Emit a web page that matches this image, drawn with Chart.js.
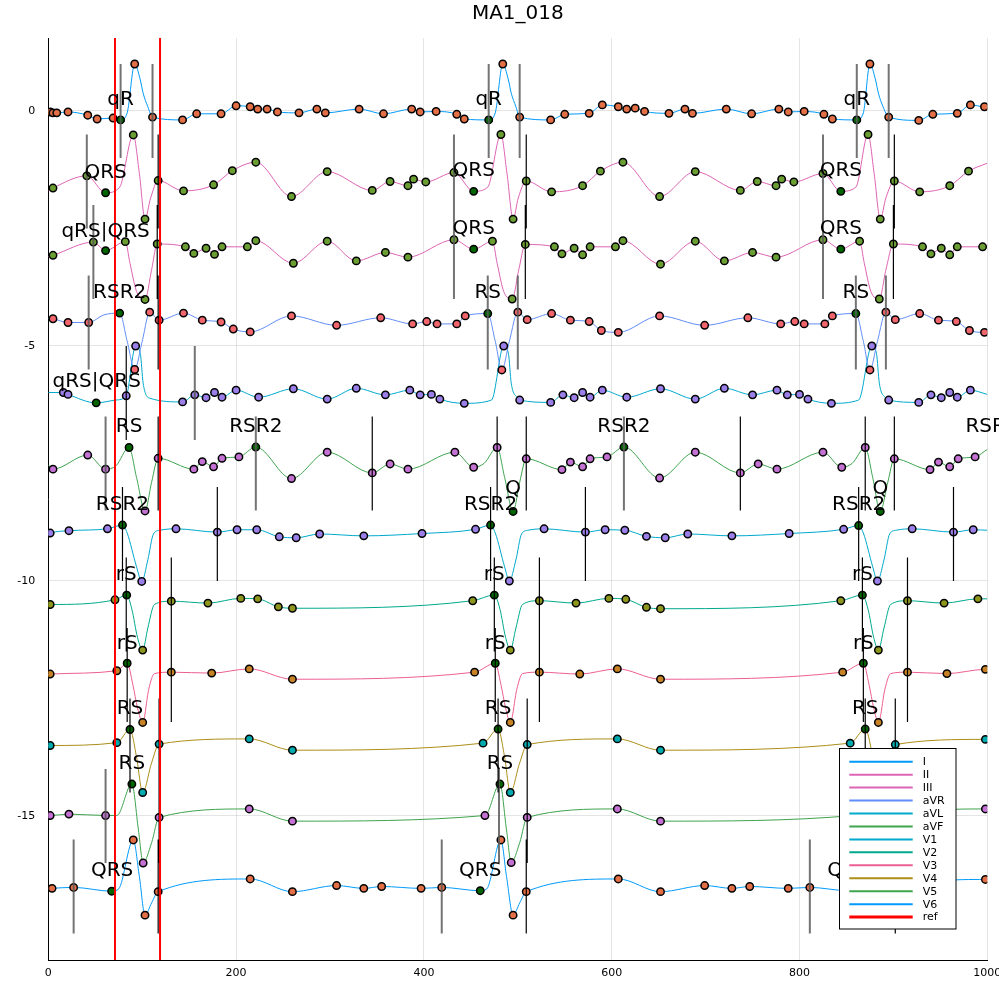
<!DOCTYPE html>
<html><head><meta charset="utf-8">
<script src="https://cdn.jsdelivr.net/npm/chart.js@4.4.1/dist/chart.umd.min.js"></script>
<style>html,body{margin:0;padding:0;background:#fff}canvas{display:block}</style>
</head><body>
<canvas id="c" width="999" height="999"></canvas>
<script>
const chartTitle = 'MA1_018';
const leadNames = ['I','II','III','aVR','aVL','aVF','V1','V2','V3','V4','V5','V6'];
const leadOffsets = [0,-1.5,-3,-4.5,-6,-7.5,-9,-10.5,-12,-13.5,-15,-16.5];
const lineColors = ['#009AFA','#DD64B5','#DD64B5','#618DF6','#00A9CD','#3EA44E','#00A9CD','#00A98D','#ED5E93','#AC8E18','#3EA44E','#009AFA'];
const markerColors = ['#E36F47','#6B9E32','#6B9E32','#F0666C','#9B7FE9','#C371D2','#9B7FE9','#8E971D','#C68225','#00AAAE','#C371D2','#E36F47'];
const fiducialColor = '#006400';
const xTicks = [0,200,400,600,800,1000];
const yTicks = [-15,-10,-5,0];
const xMin = 0, xMax = 1000, yMin = -18.064, yMax = 1.553;
const refX = [71,119];

// [x, y, kind]  kind: 0 trace only, 1 marker, 2 fiducial (dark green) marker
const leadI = [[0,0,0],[2,-0.02,1],[5,-0.04,1],[9,-0.04,1],[21,-0.02,1],[42,-0.09,1],[52,-0.17,1],[69,-0.15,1],[77,-0.19,2],[84,-0.04,0],[92,1.0,1],[98,0.66,0],[101,0.38,0],[106,0.09,0],[111,-0.13,1],[143,-0.19,1],[158,-0.06,1],[184,-0.06,1],[200,0.11,1],[215,0.09,1],[223,0.04,1],[233,0.04,1],[244,-0.02,1],[267,-0.04,1],[286,0.04,1],[295,-0.04,1],[331,0.04,1],[357,-0.06,1],[387,0.04,1],[396,-0.02,1],[413,-0.01,1],[435,-0.07,1],[443,-0.17,1],[469,-0.19,2],[476,-0.04,0],[484,1.0,1],[490,0.66,0],[493,0.38,0],[498,0.09,0],[502,-0.13,1],[535,-0.19,1],[550,-0.07,1],[576,-0.05,1],[590,0.13,1],[607,0.09,1],[616,0.04,1],[625,0.06,1],[635,-0.01,1],[661,-0.05,1],[678,0.04,1],[686,-0.05,1],[722,0.04,1],[749,-0.06,1],[778,0.04,1],[788,-0.02,1],[805,-0.01,1],[826,-0.07,1],[835,-0.17,1],[861,-0.19,2],[868,-0.04,0],[875,1.0,1],[881,0.66,0],[884,0.38,0],[889,0.09,0],[895,-0.13,1],[927,-0.2,1],[942,-0.07,1],[968,-0.05,1],[982,0.13,1],[997,0.09,1],[1000,0.09,0]];
const leadII = [[0,-1.70,0],[5,-1.64,1],[41,-1.38,1],[61,-1.74,2],[76,-1.62,0],[90.5,-0.51,1],[97,-1.33,0],[103,-2.30,1],[109,-1.85,0],[117,-1.48,1],[144,-1.70,1],[176,-1.57,1],[196,-1.27,1],[221,-1.09,1],[259,-1.82,1],[297,-1.29,1],[345,-1.69,1],[364,-1.50,1],[383,-1.59,1],[389,-1.45,1],[402,-1.51,1],[432,-1.31,1],[453,-1.71,2],[468,-1.62,0],[482,-0.50,1],[488.5,-1.33,0],[495,-2.30,1],[500.5,-1.85,0],[509,-1.49,1],[536,-1.72,1],[569,-1.59,1],[588,-1.28,1],[612,-1.09,1],[651,-1.82,1],[689,-1.29,1],[737,-1.69,1],[755,-1.50,1],[775,-1.59,1],[781,-1.45,1],[794,-1.51,1],[825,-1.33,1],[844,-1.71,2],[860,-1.62,0],[873,-0.50,1],[879.5,-1.33,0],[886,-2.30,1],[892,-1.85,0],[901,-1.49,1],[928,-1.72,1],[960,-1.59,1],[980,-1.28,1],[1000,-1.11,0]];
const leadIII = [[0,-3.10,0],[5,-3.07,1],[48,-2.79,1],[61,-2.97,2],[82,-2.78,1],[87,-3.24,0],[94,-3.84,0],[103,-4.01,1],[110,-3.38,0],[116,-2.83,1],[146,-2.89,1],[155,-3.03,1],[168,-2.92,1],[177,-3.05,1],[185,-2.89,1],[212,-2.89,1],[221,-2.76,1],[261,-3.24,1],[297,-2.77,1],[328,-3.19,1],[359,-3.01,1],[383,-3.11,1],[432,-2.74,1],[453,-2.94,2],[473,-2.77,1],[478,-3.24,0],[485,-3.84,0],[494,-4.0,1],[501,-3.38,0],[508,-2.84,1],[539,-2.89,1],[547,-3.04,1],[560,-2.92,1],[569,-3.06,1],[577,-2.89,1],[604,-2.89,1],[612,-2.76,1],[652,-3.26,1],[689,-2.77,1],[720,-3.19,1],[750,-3.01,1],[775,-3.11,1],[825,-2.74,1],[844,-2.94,2],[864,-2.77,1],[869,-3.24,0],[876,-3.84,0],[885,-4.0,1],[892,-3.38,0],[900,-2.83,1],[931,-2.89,1],[940,-3.04,1],[951,-2.92,1],[960,-3.06,1],[968,-2.89,1],[995,-2.89,1],[1000,-2.85,0]];
const leadAVR = [[0,-4.41,0],[5,-4.42,1],[21,-4.50,1],[43,-4.50,1],[59,-4.34,0],[76,-4.30,2],[84,-4.9,0],[92,-5.50,1],[100,-4.9,0],[108,-4.28,1],[118,-4.45,1],[144,-4.30,1],[164,-4.45,1],[184,-4.49,1],[197,-4.64,1],[215,-4.70,1],[259,-4.36,1],[307,-4.56,1],[354,-4.40,1],[388,-4.53,1],[403,-4.48,1],[414,-4.53,1],[435,-4.53,1],[444,-4.36,1],[468,-4.31,2],[476,-4.9,0],[483,-5.51,1],[491,-4.9,0],[500,-4.28,1],[510,-4.44,1],[536,-4.31,1],[556,-4.45,1],[576,-4.48,1],[589,-4.67,1],[607,-4.71,1],[651,-4.36,1],[699,-4.56,1],[745,-4.40,1],[780,-4.53,1],[795,-4.48,1],[805,-4.53,1],[827,-4.53,1],[835,-4.36,1],[860,-4.31,2],[868,-4.9,0],[875,-5.51,1],[883,-4.9,0],[892,-4.28,1],[902,-4.44,1],[928,-4.31,1],[948,-4.45,1],[967,-4.48,1],[981,-4.67,1],[997,-4.71,1],[1000,-4.71,0]];
const leadAVL = [[0,-5.99,0],[16,-5.99,1],[21,-6.03,1],[51,-6.21,2],[72,-6.15,0],[83,-6.06,1],[93,-5.0,1],[98,-5.16,0],[101,-5.79,0],[108,-6.11,0],[143,-6.19,1],[156,-6.04,1],[168,-6.10,1],[177,-5.99,1],[185,-6.09,1],[200,-5.94,1],[224,-6.09,1],[261,-5.91,1],[297,-6.13,1],[328,-5.90,1],[359,-6.04,1],[385,-5.94,1],[396,-6.04,1],[408,-6.03,1],[417,-6.13,1],[443,-6.22,1],[472,-6.15,0],[485,-5.0,1],[490,-5.16,0],[493,-5.79,0],[500,-6.11,0],[502,-6.15,1],[535,-6.20,1],[548,-6.04,1],[560,-6.10,1],[569,-5.99,1],[577,-6.09,1],[590,-5.94,1],[616,-6.09,1],[652,-5.91,1],[689,-6.13,1],[720,-5.90,1],[750,-6.04,1],[776,-5.94,1],[787,-6.04,1],[800,-6.03,1],[809,-6.13,1],[834,-6.22,1],[863,-6.15,0],[877,-5.0,1],[882,-5.16,0],[885,-5.79,0],[892,-6.11,0],[895,-6.15,1],[927,-6.20,1],[940,-6.04,1],[951,-6.10,1],[960,-5.99,1],[968,-6.09,1],[982,-5.94,1],[1000,-6.03,0]];
const leadAVF = [[0,-7.53,0],[5,-7.62,1],[42,-7.32,1],[61,-7.62,1],[72,-7.55,0],[86,-7.16,2],[94,-7.8,0],[103,-8.51,1],[110,-7.9,0],[117,-7.39,1],[155,-7.62,1],[164,-7.46,1],[176,-7.57,1],[185,-7.39,1],[203,-7.36,1],[221,-7.15,2],[259,-7.82,1],[297,-7.26,1],[345,-7.70,1],[364,-7.51,1],[383,-7.62,1],[433,-7.26,1],[453,-7.58,1],[464,-7.5,0],[478,-7.16,1],[486,-7.8,0],[495,-8.52,2],[502,-7.9,0],[509,-7.40,1],[547,-7.63,1],[556,-7.47,1],[569,-7.57,1],[577,-7.40,1],[595,-7.36,1],[613,-7.15,2],[651,-7.81,1],[689,-7.26,1],[737,-7.70,1],[756,-7.51,1],[776,-7.62,1],[825,-7.26,1],[845,-7.58,1],[856,-7.5,0],[870,-7.16,1],[878,-7.8,0],[886,-8.52,2],[894,-7.9,0],[901,-7.40,1],[939,-7.63,1],[948,-7.47,1],[960,-7.57,1],[969,-7.40,1],[987,-7.36,1],[1000,-7.2,0]];
const leadV1 = [[0,-9.0,0],[2,-8.98,1],[22,-8.93,1],[63,-8.89,1],[79,-8.81,2],[84,-8.98,0],[94,-9.70,0],[99.5,-10.01,1],[106,-9.55,0],[112,-9.0,0],[119,-8.92,0],[136,-8.89,1],[180,-8.96,1],[201,-8.91,1],[222,-8.91,1],[246,-9.06,1],[264,-9.08,1],[289,-9.0,1],[336,-9.04,1],[398,-8.99,1],[455,-8.90,1],[471,-8.81,2],[476,-8.98,0],[486,-9.70,0],[491,-10.0,1],[498,-9.55,0],[504,-9.0,0],[511,-8.92,0],[528,-8.89,1],[572,-8.96,1],[593,-8.91,1],[614,-8.92,1],[637,-9.05,1],[657,-9.08,1],[681,-9.0,1],[728,-9.04,1],[789,-8.99,1],[847,-8.90,1],[863,-8.82,2],[868,-8.98,0],[878,-9.70,0],[883,-10.0,1],[890,-9.55,0],[896,-9.0,0],[903,-8.92,0],[920,-8.89,1],[964,-8.96,1],[985,-8.91,1],[1000,-8.92,0]];
const leadV2 = [[0,-10.49,0],[2,-10.50,1],[71,-10.40,1],[83.5,-10.30,2],[89,-10.6,0],[95,-11.2,0],[100.5,-11.47,1],[106,-11.0,0],[113,-10.5,0],[131,-10.43,1],[170,-10.47,1],[205,-10.37,1],[223,-10.38,1],[245,-10.55,1],[260,-10.58,1],[452,-10.42,1],[475,-10.30,2],[481,-10.6,0],[487,-11.2,0],[492,-11.47,1],[498,-11.0,0],[505,-10.5,0],[523,-10.42,1],[562,-10.47,1],[597,-10.37,1],[615,-10.39,1],[637,-10.56,1],[652,-10.59,1],[844,-10.42,1],[867,-10.30,2],[873,-10.6,0],[879,-11.2,0],[884,-11.47,1],[890,-11.0,0],[897,-10.5,0],[915,-10.42,1],[954,-10.47,1],[990,-10.38,1],[1000,-10.38,0]];
const leadV3 = [[0,-11.99,0],[2,-11.98,1],[73,-11.91,1],[84,-11.75,2],[90,-12.2,0],[95,-12.7,0],[100.5,-13.01,1],[107,-12.3,0],[113,-11.97,0],[131,-11.94,1],[174,-11.96,1],[214,-11.87,1],[260,-12.09,1],[454,-11.94,1],[476,-11.75,2],[482,-12.2,0],[487,-12.7,0],[492,-13.01,1],[499,-12.3,0],[505,-11.97,0],[523,-11.94,1],[566,-11.98,1],[606,-11.87,1],[652,-12.09,1],[846,-11.94,1],[868,-11.75,2],[874,-12.2,0],[879,-12.7,0],[884,-13.01,1],[891,-12.3,0],[897,-11.97,0],[915,-11.94,1],[957,-11.97,1],[998,-11.88,1],[1000,-11.88,0]];
const leadV4 = [[0,-13.50,0],[2,-13.50,1],[73,-13.44,1],[87,-13.16,2],[94,-13.75,0],[100.5,-14.5,1],[110,-13.87,0],[118,-13.47,1],[214,-13.36,1],[260,-13.60,1],[463,-13.45,1],[479,-13.15,2],[486,-13.75,0],[492,-14.5,1],[502,-13.87,0],[510,-13.48,1],[606,-13.36,1],[652,-13.60,1],[854,-13.45,1],[870,-13.15,2],[878,-13.75,0],[884,-14.5,1],[894,-13.87,0],[902,-13.48,1],[998,-13.37,1],[1000,-13.37,0]];
const leadV5 = [[0,-14.99,0],[2,-14.99,1],[22,-14.96,1],[61,-14.99,1],[73,-14.99,0],[89,-14.32,2],[96,-15.3,0],[101,-16.0,1],[110,-15.57,0],[118,-15.03,1],[214,-14.85,1],[260,-15.11,1],[465,-14.99,1],[481,-14.32,2],[488,-15.3,0],[493,-15.99,1],[502,-15.57,0],[510,-15.03,1],[606,-14.85,1],[652,-15.11,1],[857,-14.99,1],[873,-14.32,2],[880,-15.3,0],[885,-16.0,1],[894,-15.57,0],[902,-15.03,1],[998,-14.85,1],[1000,-14.85,0]];
const leadV6 = [[0,-16.55,0],[4,-16.54,1],[27,-16.52,1],[67.5,-16.60,2],[75,-16.55,0],[90.5,-15.51,1],[97,-16.29,0],[103,-17.11,1],[110,-16.85,0],[117,-16.61,1],[215,-16.34,1],[260,-16.61,1],[307,-16.48,1],[336,-16.54,1],[355,-16.50,1],[397,-16.54,1],[419,-16.52,1],[460,-16.59,2],[467,-16.55,0],[482,-15.51,1],[488,-16.29,0],[495,-17.11,1],[502,-16.85,0],[509,-16.61,1],[607,-16.34,1],[652,-16.61,1],[699,-16.48,1],[728,-16.54,1],[747,-16.50,1],[788,-16.54,1],[811,-16.52,1],[852,-16.59,2],[859,-16.55,0],[874,-15.51,1],[880,-16.29,0],[887,-17.11,1],[894,-16.85,0],[901,-16.61,1],[998,-16.35,1],[1000,-16.35,0]];

// vertical boundary marks: [lead index, x]
const boundsGray = [[0,77],[0,111],[0,469],[0,502],[0,861],[0,895],[1,41],[1,432],[1,825],[2,48],[2,432],[2,825],[3,43],[3,468],[3,500],[3,860],[3,892],[4,156],[5,61],[5,221],[5,613],[5,1005],[10,61],[10,480],[10,872],[11,27],[11,419],[11,811]];
const boundsBlack = [[1,117],[1,509],[1,901],[2,116],[2,508],[2,900],[3,117],[4,83],[5,117],[5,345],[5,478],[5,509],[5,737],[5,870],[5,901],[6,79],[6,180],[6,471],[6,572],[6,863],[6,964],[7,83],[7,131],[7,475],[7,523],[7,867],[7,915],[8,84],[8,131],[8,476],[8,523],[8,868],[8,915],[9,87],[9,118],[9,479],[9,510],[9,870],[9,902],[10,118],[10,510],[10,902],[11,117],[11,509],[11,902]];

// [text, x, y]
const annotations = [
 ['qR',77,0.28],['qR',469,0.28],['qR',861,0.28],
 ['QRS',61,-1.26],['QRS',453,-1.23],['QRS',844,-1.23],
 ['qRS|QRS',61,-2.52],['QRS',453,-2.47],['QRS',844,-2.47],
 ['RSR2',76,-3.83],['RS',468,-3.83],['RS',860,-3.83],
 ['qRS|QRS',51.5,-5.72],
 ['RS',86,-6.68],['RSR2',221,-6.68],['Q',495,-8.0],['RSR2',613,-6.68],['Q',886,-8.0],['RSR2',1005,-6.68],
 ['RSR2',79,-8.33],['RSR2',471,-8.33],['RSR2',863,-8.33],
 ['rS',83,-9.82],['rS',475,-9.82],['rS',867,-9.82],
 ['rS',84,-11.29],['rS',476,-11.29],['rS',868,-11.29],
 ['RS',87,-12.67],['RS',479,-12.67],['RS',870,-12.67],
 ['RS',89,-13.84],['RS',481,-13.84],['RS',873,-13.84],
 ['QRS',68,-16.12],['QRS',460,-16.12],['QRS',852,-16.12]
];

const leads = [leadI,leadII,leadIII,leadAVR,leadAVL,leadAVF,leadV1,leadV2,leadV3,leadV4,leadV5,leadV6];

const datasets = [];
leads.forEach((arr,i)=>{
  const pts = arr.slice().sort((a,b)=>a[0]-b[0]);
  datasets.push({label:leadNames[i], data:pts.map(p=>({x:p[0],y:p[1]})), borderColor:lineColors[i], borderWidth:1,
    pointRadius:0, cubicInterpolationMode:'monotone', fill:false, order:40});
  datasets.push({label:leadNames[i]+' pts', data:pts.filter(p=>p[2]===1).map(p=>({x:p[0],y:p[1]})), showLine:false,
    pointRadius:3.7, pointBackgroundColor:markerColors[i], pointBorderColor:'#000', pointBorderWidth:1.5, order:30});
});
const fid = [];
leads.forEach(arr=>arr.filter(p=>p[2]===2).forEach(p=>fid.push({x:p[0],y:p[1]})));
datasets.push({label:'fiducial', data:fid, showLine:false, pointRadius:3.7, pointBackgroundColor:fiducialColor, pointBorderColor:'#000', pointBorderWidth:1.5, order:25});
function segData(list){
  const d=[];
  list.forEach(([li,xv])=>{ const b=leadOffsets[li]; d.push({x:xv,y:b-1},{x:xv,y:b+1},{x:xv,y:null}); });
  return d;
}
datasets.push({label:'bounds gray', data:segData(boundsGray), borderColor:'rgba(90,90,90,0.85)', borderWidth:2, pointRadius:0, spanGaps:false, order:20});
datasets.push({label:'bounds black', data:segData(boundsBlack), borderColor:'#000', borderWidth:1.2, pointRadius:0, spanGaps:false, order:19});
const refData=[]; refX.forEach(v=>refData.push({x:v,y:yMin},{x:v,y:yMax},{x:v,y:null}));
datasets.push({label:'ref', data:refData, borderColor:'#FF0000', borderWidth:2, pointRadius:0, spanGaps:false, order:10});

const legendItems = leadNames.map((n,i)=>({text:n,color:lineColors[i],w:2})).concat([{text:'ref',color:'#FF0000',w:3}]);

const overlay = {
  id:'overlay',
  afterDatasetsDraw(chart){
    const {ctx, scales:{x,y}} = chart;
    ctx.save();
    ctx.fillStyle='#000'; ctx.font='20px "DejaVu Sans"'; ctx.textAlign='center'; ctx.textBaseline='alphabetic';
    annotations.forEach(([t,xv,yv])=>ctx.fillText(t, x.getPixelForValue(xv), y.getPixelForValue(yv)+7.3));
    ctx.restore();
  },
  afterDraw(chart){
    const {ctx, chartArea:a} = chart;
    ctx.save();
    ctx.fillStyle='#000'; ctx.font='20px "DejaVu Sans"'; ctx.textAlign='center'; ctx.textBaseline='alphabetic';
    ctx.fillText(chartTitle,(a.left+a.right)/2,18.5);
    const bx=839.5, by=748.5, bw=116.5, bh=180.5;
    ctx.fillStyle='#fff'; ctx.fillRect(bx,by,bw,bh);
    ctx.strokeStyle='#000'; ctx.lineWidth=1; ctx.strokeRect(bx,by,bw,bh);
    ctx.font='11px "DejaVu Sans"'; ctx.textAlign='left'; ctx.textBaseline='middle';
    legendItems.forEach((it,k)=>{
      const yy = 761.7 + k*12.95;
      ctx.strokeStyle=it.color; ctx.lineWidth=it.w;
      ctx.beginPath(); ctx.moveTo(849.3,yy); ctx.lineTo(912.7,yy); ctx.stroke();
      ctx.fillStyle='#000'; ctx.fillText(it.text,922.7,yy+0.5);
    });
    ctx.restore();
  }
};

new Chart(document.getElementById('c'), {
  type:'line',
  data:{datasets},
  options:{
    responsive:false, animation:false, events:[], devicePixelRatio:1,
    layout:{padding:{top:38,right:11.7,left:0,bottom:0}},
    plugins:{legend:{display:false}, title:{display:false}, tooltip:{enabled:false}},
    scales:{
      x:{type:'linear', min:xMin, max:xMax,
        afterBuildTicks:s=>{s.ticks=xTicks.map(v=>({value:v}));},
        afterFit:s=>{s.height=39; s.paddingLeft=0; s.paddingRight=0;},
        ticks:{font:{family:'DejaVu Sans',size:11}, color:'#000', padding:7, maxRotation:0, autoSkip:false, callback:v=>String(v)},
        grid:{color:'rgba(0,0,0,0.1)', drawTicks:false, lineWidth:1},
        border:{color:'#000', width:1}},
      y:{type:'linear', min:yMin, max:yMax,
        afterBuildTicks:s=>{s.ticks=yTicks.map(v=>({value:v}));},
        afterFit:s=>{s.width=48.3; s.paddingTop=0; s.paddingBottom=0;},
        ticks:{font:{family:'DejaVu Sans',size:11}, color:'#000', padding:13, autoSkip:false, callback:v=>String(v)},
        grid:{color:'rgba(0,0,0,0.1)', drawTicks:false, lineWidth:1},
        border:{color:'#000', width:1}}
    }
  },
  plugins:[overlay]
});
</script>
</body></html>
